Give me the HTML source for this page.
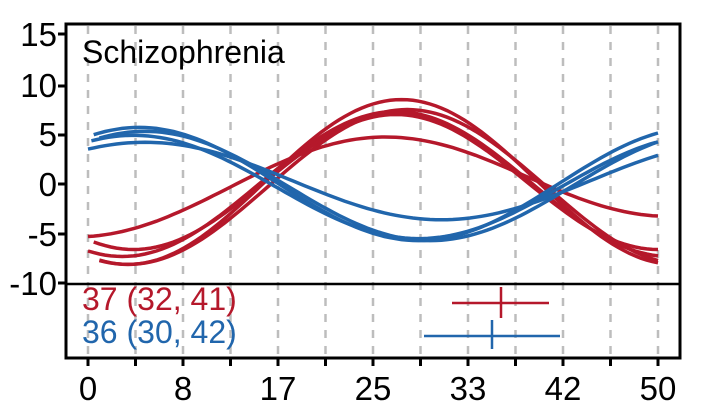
<!DOCTYPE html>
<html><head><style>body{margin:0;background:#fff}svg{display:block}text{font-family:"Liberation Sans",sans-serif}</style></head>
<body>
<svg id="s" width="704" height="414" viewBox="0 0 704 414" xmlns="http://www.w3.org/2000/svg">
<g id="grid" stroke="#bdbdbd" stroke-width="2.5" stroke-dasharray="8,8"></g>
<g id="curves" fill="none" stroke-width="3.5"></g>
<line x1="66" y1="284" x2="680" y2="284" stroke="#000" stroke-width="2.5"/>
<rect x="66" y="24" width="614" height="334" fill="none" stroke="#000" stroke-width="3"/>
<g id="ticks" stroke="#000" stroke-width="3"></g>
<g font-size="33" text-anchor="end" fill="#000">
<text x="57" y="46">15</text><text x="57" y="97">10</text><text x="57" y="146">5</text>
<text x="57" y="196">0</text><text x="57" y="246">-5</text><text x="57" y="295">-10</text>
</g>
<g id="xl" font-size="33" text-anchor="middle" fill="#000"></g>
<text x="82" y="63" font-size="32">Schizophrenia</text>
<text x="82" y="310" font-size="32" fill="#b5182b">37 (32, 41)</text>
<text x="82" y="343" font-size="32" fill="#2166ac">36 (30, 42)</text>
<g stroke="#b5182b" stroke-width="2.5"><line x1="452" y1="303" x2="549" y2="303"/><line x1="501" y1="287" x2="501" y2="318"/></g>
<g stroke="#2166ac" stroke-width="2.5"><line x1="424" y1="336" x2="560" y2="336"/><line x1="492" y1="320" x2="492" y2="349"/></g>
</svg>
<script>
var NS="http://www.w3.org/2000/svg";
function X(t){return 88+11.4*t}function Y(v){return 184-9.93*v}
var g=document.getElementById('grid'),tk=document.getElementById('ticks'),xl=document.getElementById('xl');
var labs=["0","8","17","25","33","42","50"];
for(var i=0;i<13;i++){var x=88+i*47.5;
var l=document.createElementNS(NS,'line');l.setAttribute('x1',x);l.setAttribute('x2',x);l.setAttribute('y1',26);l.setAttribute('y2',356);g.appendChild(l);
var t=document.createElementNS(NS,'line');t.setAttribute('x1',x);t.setAttribute('x2',x);t.setAttribute('y1',358);t.setAttribute('y2',366);tk.appendChild(t);
if(i%2==0){var tx=document.createElementNS(NS,'text');tx.setAttribute('x',x);tx.setAttribute('y',400);tx.textContent=labs[i/2];xl.appendChild(tx);}}
[34,86,135,184,234,283].forEach(function(y){var t=document.createElementNS(NS,'line');t.setAttribute('x1',58);t.setAttribute('x2',66);t.setAttribute('y1',y);t.setAttribute('y2',y);tk.appendChild(t);});
var cv=document.getElementById('curves');
var red=[[8.3,0.2,27.5,48,1,0],[7.3,0,27,48,0,0],[6.8,0.2,27,46,0.5,0],[7.8,-0.3,28,49,1,0],[4.5,0.2,25.5,52,0,0.04]];
var blue=[[5.7,0,4.5,49,0.5,0],[5.5,-0.2,5,50,1,0],[5.2,-0.3,4,50,0.3,0],[3.9,0.3,5,52,0,0]];
function draw(arr,col){arr.forEach(function(c){var d="";for(var t=c[4];t<=50.01;t+=0.5){var v=c[1]+c[0]*Math.cos(2*Math.PI*(t-c[2])/c[3])+c[5]*(t-25);d+=(d?"L":"M")+X(t).toFixed(1)+","+Y(v).toFixed(1);}
var p=document.createElementNS(NS,'path');p.setAttribute('d',d);p.setAttribute('stroke',col);cv.appendChild(p);});}
draw(red,'#b5182b');draw(blue,'#2166ac');
</script>
</body></html>
